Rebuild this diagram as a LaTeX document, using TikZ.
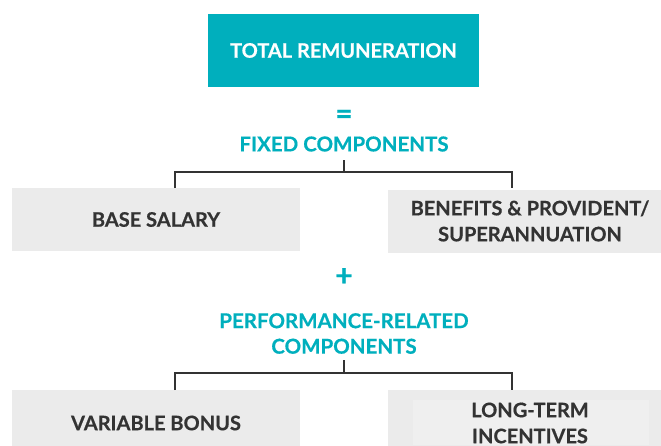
\documentclass[tikz,border=0pt]{standalone}
\usepackage{fontspec}
\setmainfont{Lato}[BoldFeatures={FakeBold=0.5}]
\usetikzlibrary{positioning}
\definecolor{remteal}{HTML}{00AFBD}
\definecolor{boxgrey}{HTML}{EBEBEB}
\definecolor{innergrey}{HTML}{EFEFEF}
\definecolor{textdark}{HTML}{333333}

\begin{document}
\begin{tikzpicture}[x=1pt, y=-1pt, semithick]
                \tikzset{head/.style={fill=remteal, text=white, font=\bfseries\fontsize{20}{20}\selectfont, minimum width=271pt, minimum height=73pt, inner sep=0pt}};
                \tikzset{part/.style={fill=boxgrey, text=textdark, font=\bfseries\fontsize{20}{26}\selectfont, align=center, inner sep=0pt}};
                \tikzset{group/.style={text=remteal, font=\bfseries\fontsize{20.5}{25.5}\selectfont, align=center, inner sep=0pt}};
                \tikzset{sign/.style={text=remteal, font=\bfseries\fontsize{30}{30}\selectfont, inner sep=0pt}};
                \tikzset{link/.style={draw=textdark, line width=2.2pt}};
                \useasboundingbox (0, 0) rectangle (661, 445);
                % total and fixed part
                \node[head] (total) at (343.5, 50.5) {TOTAL REMUNERATION};
                \node[sign] (eq) at (344, 117) {=};
                \node[group] (fixed) at (344, 144) {FIXED COMPONENTS};
                \node[part, minimum width=288pt, minimum height=63pt] (base) at (156, 219.5) {BASE SALARY};
                \node[part, minimum width=284pt, minimum height=63pt] (benefits) at (530, 221) {BENEFITS \& PROVIDENT/\\SUPERANNUATION};
                \coordinate (f1) at (344, 160);
                \coordinate (j1) at (344, 172);
                \coordinate (baseTop) at (175, 188);
                \coordinate (benTop) at (512, 188);
                \draw[link] (f1) -- (j1);
                \draw[link] (baseTop) |- (j1) -| (benTop);
                % performance part
                \node[sign] (plus) at (344, 277) {+};
                \node[group] (perf) at (344, 333.5) {PERFORMANCE-RELATED\\COMPONENTS};
                \node[part, minimum width=288pt, minimum height=60pt, anchor=north] (bonus) at (156, 390) {};
                \node[text=textdark, font=\bfseries\fontsize{20}{26}\selectfont] (bonustxt) at (156, 423) {VARIABLE BONUS};
                \node[part, minimum width=273pt, minimum height=60pt, anchor=north] (lti) at (524.5, 390) {};
                \fill[innergrey] (413, 400) rectangle (649, 445);
                \node[text=textdark, font=\bfseries\fontsize{20}{26}\selectfont, align=center, inner sep=0pt] (ltitxt) at (530, 423) {LONG-TERM\\INCENTIVES};
                \coordinate (p1) at (344, 360);
                \coordinate (j2) at (344, 373);
                \coordinate (bonusTop) at (175, 390);
                \coordinate (ltiTop) at (512, 390);
                \draw[link] (p1) -- (j2);
                \draw[link] (bonusTop) |- (j2) -| (ltiTop);
            \end{tikzpicture}
\end{document}
